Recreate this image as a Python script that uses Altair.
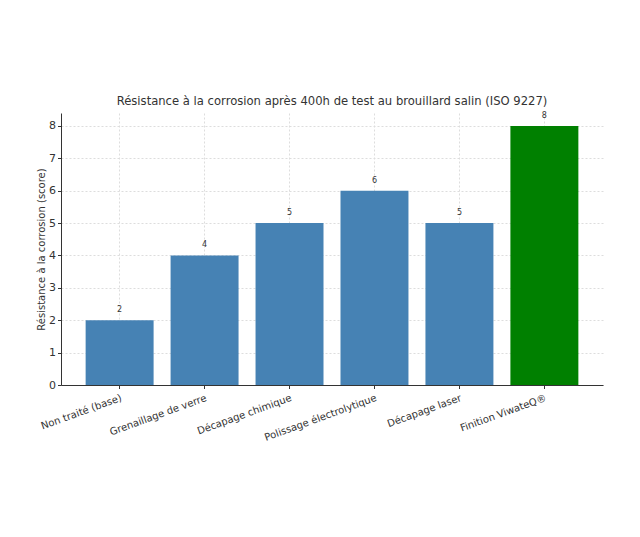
import altair as alt
import pandas as pd

categories = ["Non traité (base)", "Grenaillage de verre", "Décapage chimique",
              "Polissage électrolytique", "Décapage laser", "Finition ViwateQ®"]
scores = [2, 4, 5, 6, 5, 8]
colors = ["#4682B4", "#4682B4", "#4682B4", "#4682B4", "#4682B4", "#008000"]
y_ticks = [0, 1, 2, 3, 4, 5, 6, 7, 8]

df = pd.DataFrame({"cat": categories, "score": scores, "color": colors})

font = "DejaVu Sans"

x = alt.X("cat:N", sort=categories, title=None,
          scale=alt.Scale(paddingInner=0.2, paddingOuter=0.29),
          axis=alt.Axis(labelAngle=-20, labelAlign="right", labelBaseline="top",
                        labelFontSize=10, labelColor="#333", labelFont=font,
                        labelPadding=4, tickSize=3.5, tickColor="#333",
                        domainColor="#333", domainWidth=1, labelOverlap=False,
                        grid=True, gridDash=[2, 2], gridColor="#dddddd",
                        bandPosition=0.5))
y = alt.Y("score:Q", title="Résistance à la corrosion (score)",
          scale=alt.Scale(domain=[0, 8.4], nice=False),
          axis=alt.Axis(values=y_ticks, tickCount=9, labelOverlap=False,
                        labelFontSize=11, labelColor="#333",
                        labelFont=font, titleFont=font, titleFontSize=10,
                        titleFontWeight="normal", titleColor="#333", titlePadding=2,
                        tickSize=3.5, tickColor="#333", domainColor="#333",
                        grid=True, gridDash=[2, 2], gridColor="#dddddd"))

bars = alt.Chart(df).mark_bar(opacity=1).encode(
    x=x, y=y, color=alt.Color("color:N", scale=None)
)
labels = alt.Chart(df).mark_text(baseline="bottom", dy=-6, fontSize=8,
                                  color="#333", font=font).encode(
    x=x, y=y, text="score:Q"
)

chart = alt.layer(bars, labels).properties(
    width=542, height=272,
    title=alt.TitleParams("Résistance à la corrosion après 400h de test au brouillard salin (ISO 9227)",
                          font=font, fontSize=11.6, fontWeight="normal", color="#333",
                          offset=4),
    padding={"left": 53, "top": 105, "right": 29, "bottom": 136},
    autosize=alt.AutoSizeParams(type="none"),
).configure_view(stroke=None)

chart.save("out.html", embed_options={"renderer": "svg", "actions": False})
